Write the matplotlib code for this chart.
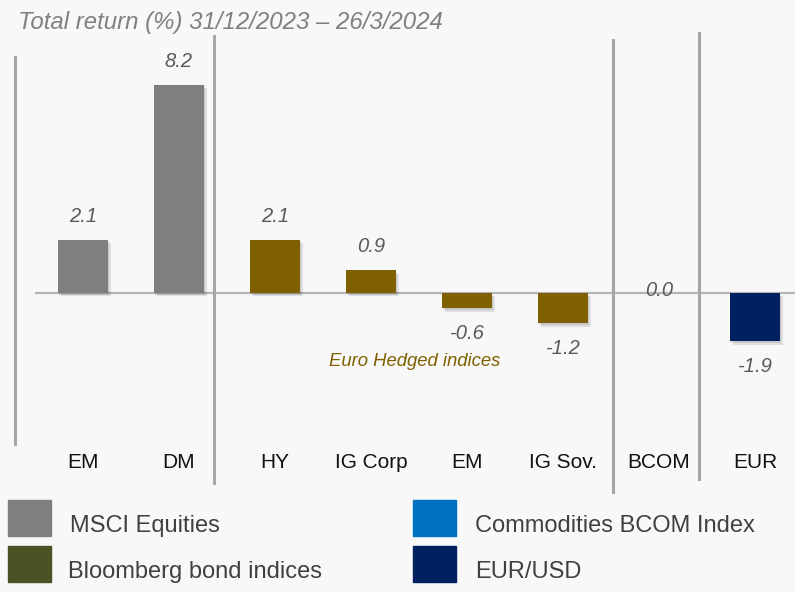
import matplotlib
matplotlib.use("Agg")
import matplotlib.pyplot as plt
import matplotlib.patheffects as pe
from matplotlib.lines import Line2D
from matplotlib.patches import Rectangle

plt.rcParams['font.family'] = ['Liberation Sans', 'DejaVu Sans']

# data
categories = ['EM', 'DM', 'HY', 'IG Corp', 'EM', 'IG Sov.', 'BCOM', 'EUR']
values = [2.1, 8.2, 2.1, 0.9, -0.6, -1.2, 0.0, -1.9]
groups = ['eq', 'eq', 'bond', 'bond', 'bond', 'bond', 'comm', 'fx']

bar_colors = {'eq': '#7f7f7f', 'bond': '#7f6000', 'comm': '#0070c0', 'fx': '#002060'}
legend_items = [('MSCI Equities', '#7f7f7f'), ('Commodities BCOM Index', '#0070c0'),
                ('Bloomberg bond indices', '#4b5223'), ('EUR/USD', '#002060')]

W, H = 795, 592
fig = plt.figure(figsize=(W / 100, H / 100), dpi=100, facecolor='#f8f8f8')

# axes: zero line at y=293px, 25.4 px per unit, 96 px per category
px_unit = 25.4
ax = fig.add_axes([35 / W, 0, 760 / W, 1])
ax.set_facecolor('none')
ax.set_xlim(-0.5, -0.5 + 760 / 96)
ax.set_ylim(-(H - 293) / px_unit, 293 / px_unit)
ax.axis('off')

ax.axhline(0, color='#b5b5b5', lw=1.6, zorder=1)

xs = list(range(len(values)))
bars = ax.bar(xs, values, width=0.52, color=[bar_colors[g] for g in groups], zorder=3)
for b in bars:
    b.set_path_effects([pe.SimplePatchShadow(offset=(2, -2.5), shadow_rgbFace='k', alpha=0.1),
                        pe.SimplePatchShadow(offset=(1, -1.2), shadow_rgbFace='k', alpha=0.1),
                        pe.Normal()])

for x, v in zip(xs, values):
    if v > 0:
        off = 17
    elif v < 0:
        off = -18
    else:
        off = 2
    ax.annotate(f'{v:.1f}', (x, v), xytext=(0, off), textcoords='offset points',
                ha='center', va='center', fontsize=14.5, style='italic', color='#595959')

for x, c in zip(xs, categories):
    ax.text(x, 1 - 462 / H, c, transform=ax.get_xaxis_transform(), ha='center', va='center',
            fontsize=15, color='#111111')

ax.text(3.45, (293 - 361) / px_unit, 'Euro Hedged indices', ha='center', va='center',
        fontsize=13.3, style='italic', color='#7f6000')

# separator lines (pixel coords of the slide)
seps = [(15, 57, 444), (214, 36, 483), (613, 40, 492), (699, 33, 479)]
for x, y0, y1 in seps:
    fig.add_artist(Line2D([x / W, x / W], [1 - y0 / H, 1 - y1 / H], color='#a6a6a6', lw=2.2))

fig.text(18 / W, 1 - 22 / H, 'Total return (%) 31/12/2023 \u2013 26/3/2024', ha='left', va='center',
         fontsize=17.3, style='italic', color='#808080')

# legend
spots = [(8, 500, 70), (413, 500, 475), (8, 546, 68), (413, 546, 475)]
for (label, col), (bx, by, tx) in zip(legend_items, spots):
    fig.add_artist(Rectangle((bx / W, 1 - (by + 36) / H), 43 / W, 36 / H,
                             transform=fig.transFigure, color=col))
    fig.text(tx / W, 1 - (by + 26) / H, label, ha='left', va='center', fontsize=17, color='#404040')

fig.savefig('out.png', dpi=100, facecolor=fig.get_facecolor())
